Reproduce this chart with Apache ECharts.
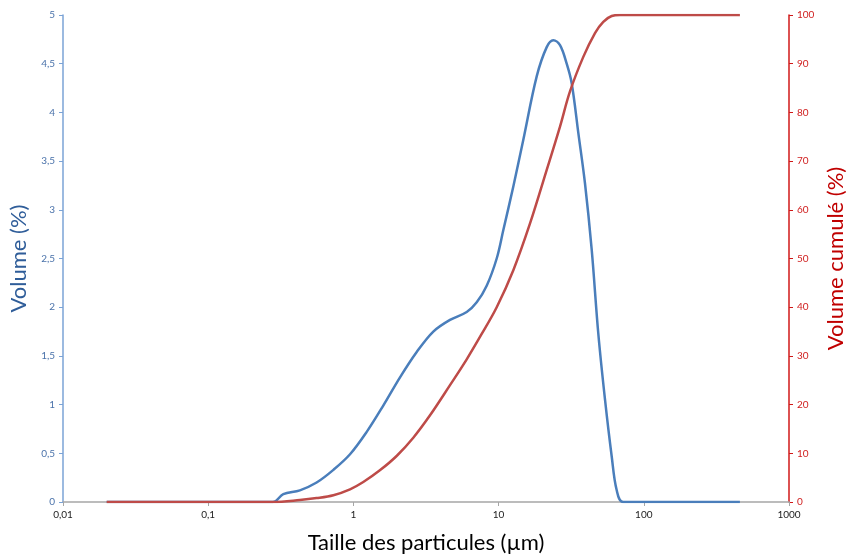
<!DOCTYPE html>
<html>
<head>
<meta charset="utf-8">
<script src="https://cdn.jsdelivr.net/npm/echarts@6/dist/echarts.min.js"></script>
<style>html,body{margin:0;padding:0;background:#fff;overflow:hidden}#c{width:847px;height:557px}</style>
</head>
<body>
<div id="c"></div>
<script>
// Particle size (µm) and volume (%) — differential distribution
const volSizes = [0.02, 0.279, 0.329, 0.428, 0.558, 0.728, 0.948, 1.235, 1.606, 2.094, 2.729, 3.551, 4.627, 6.03, 7.068, 8.279, 9.703, 10.77, 12.63, 14.8, 18.3, 21.45, 23.81, 26.48, 29.44, 31.87, 35.4, 39.36, 43.77, 48.6, 54.06, 60.09, 65.08, 72.25, 459];
const volValues = [0, 0, 0.08, 0.12, 0.20, 0.33, 0.49, 0.72, 0.99, 1.28, 1.54, 1.75, 1.87, 1.95, 2.05, 2.22, 2.50, 2.79, 3.24, 3.72, 4.37, 4.67, 4.74, 4.69, 4.50, 4.30, 3.79, 3.27, 2.59, 1.73, 1.05, 0.47, 0.12, 0, 0];
// Cumulative volume (%)
const cumSizes = [0.02, 0.279, 0.428, 0.558, 0.728, 0.948, 1.17, 1.521, 1.993, 2.585, 3.37, 4.627, 6.03, 7.648, 9.703, 12.63, 16.46, 21.45, 26.48, 31.02, 38.31, 46.12, 52.61, 60.09, 68.57, 459];
const cumValues = [0, 0, 0.4, 0.8, 1.4, 2.6, 4.1, 6.5, 9.5, 13.2, 17.8, 24.0, 29.3, 34.5, 40.0, 47.6, 57.2, 68.2, 77.1, 84.3, 91.4, 96.3, 98.6, 99.8, 100, 100];
const xTicks = [0.01, 0.1, 1, 10, 100, 1000];
const xTickLabels = ['0,01', '0,1', '1', '10', '100', '1000'];

const volData = volSizes.map((x, i) => [x, volValues[i]]);
const cumData = cumSizes.map((x, i) => [x, cumValues[i]]);
const FONT = 'Lato, "Open Sans", sans-serif';

const chart = echarts.init(document.getElementById('c'), null, {renderer: 'canvas'});
chart.setOption({
  animation: false,
  backgroundColor: '#ffffff',
  grid: {left: 63, right: 58, top: 15, bottom: 55, containLabel: false, outerBoundsMode: 'none'},
  xAxis: {
    type: 'log', logBase: 10, min: 0.01, max: 1000,
    name: 'Taille des particules (µm)', nameLocation: 'middle', nameGap: 30,
    nameTextStyle: {color: '#000', fontSize: 22, fontFamily: FONT},
    axisLine: {lineStyle: {color: '#a6a6a6', width: 1.5}},
    axisTick: {show: true, length: 4, lineStyle: {color: '#a6a6a6'}},
    minorTick: {show: false},
    splitLine: {show: false},
    axisLabel: {color: '#222', fontSize: 10, fontFamily: FONT, margin: 8,
      formatter: v => { const i = xTicks.findIndex(t => Math.abs(Math.log10(t) - Math.log10(v)) < 1e-6); return i >= 0 ? xTickLabels[i] : ''; }}
  },
  yAxis: [{
    type: 'value', min: 0, max: 5, interval: 0.5, position: 'left',
    name: 'Volume (%)', nameLocation: 'middle', nameGap: 27, nameRotate: 90,
    nameTextStyle: {color: '#2f5d99', fontSize: 22, fontFamily: FONT},
    axisLine: {show: true, lineStyle: {color: '#7ba3d6', width: 1.5}},
    axisTick: {show: true, length: 4, lineStyle: {color: '#7ba3d6'}},
    splitLine: {show: false},
    axisLabel: {color: '#4a72aa', fontSize: 10, fontFamily: FONT, margin: 8,
      formatter: v => String(v).replace('.', ',')}
  }, {
    type: 'value', min: 0, max: 100, interval: 10, position: 'right',
    name: 'Volume cumulé (%)', nameLocation: 'middle', nameGap: 35, nameRotate: 90,
    nameTextStyle: {color: '#c00000', fontSize: 22, fontFamily: FONT},
    axisLine: {show: true, lineStyle: {color: '#d01818', width: 1.5}},
    axisTick: {show: true, length: 4, lineStyle: {color: '#d01818'}},
    splitLine: {show: false},
    axisLabel: {color: '#d02020', fontSize: 10, fontFamily: FONT, margin: 8}
  }],
  series: [{
    type: 'line', data: volData, yAxisIndex: 0, smooth: 0.35,
    showSymbol: false, symbol: 'none',
    lineStyle: {color: '#4a7ebb', width: 2.5}
  }, {
    type: 'line', data: cumData, yAxisIndex: 1, smooth: 0.35,
    showSymbol: false, symbol: 'none',
    lineStyle: {color: '#be4b48', width: 2.5}
  }]
});
</script>
</body>
</html>
